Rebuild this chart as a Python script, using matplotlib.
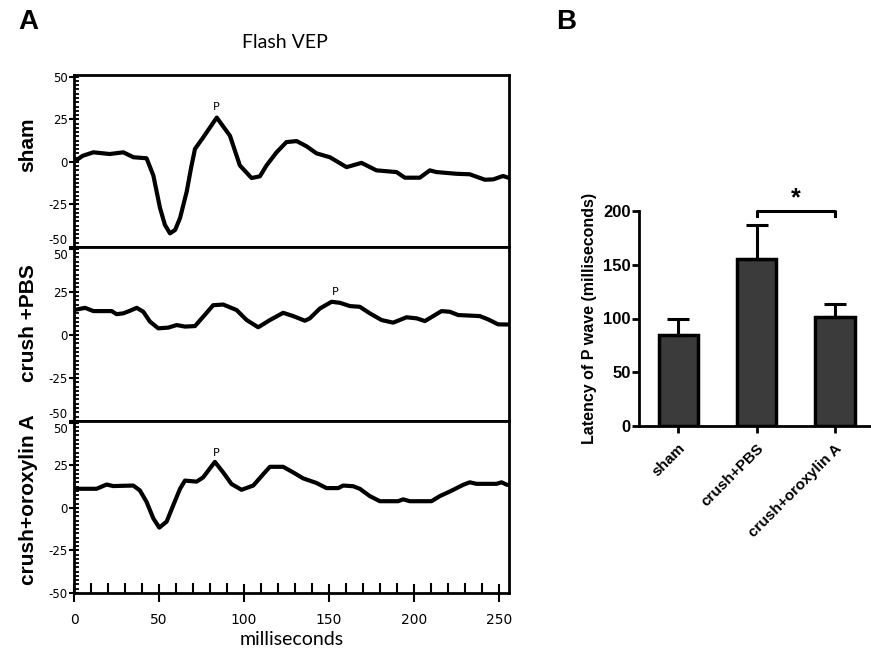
import matplotlib
matplotlib.use("Agg")
import matplotlib.pyplot as plt
from matplotlib.ticker import MultipleLocator

plt.rcParams["axes.unicode_minus"] = False

# ---------------- data ----------------
sham_t = [0, 5, 11.4, 21, 29, 35, 42.7, 46.7, 50.6, 53.5, 56.5, 59.5, 62.4, 66.3, 69, 71.2, 76, 84,
          91.8, 97.6, 104.5, 109.4, 113.3, 119.2, 125, 131, 136.9, 142.7, 150.6, 160.4, 169.2, 178,
          189.8, 194.7, 203.5, 209.4, 213.3, 225, 232.9, 241.8, 246.7, 252.5, 255.5]
sham_v = [0, 3.5, 5.6, 4.6, 5.6, 2.7, 2.1, -8, -27, -37, -42, -40, -33, -17.6, -3, 7.6, 14.3, 26,
          15.3, -2.1, -9.5, -8.5, -2.1, 5.6, 11.6, 12.2, 9.1, 5, 2.7, -3.1, -0.6, -5,
          -6, -9.3, -9.3, -5, -6, -7, -7.3, -10.5, -10.3, -8.3, -9.3]

pbs_t = [0, 6.5, 11.4, 22.2, 25.1, 29, 33, 36.9, 40.8, 44.7, 49.6, 55.5, 60.4, 65.3, 71.2, 76, 81.9,
         87.8, 95.7, 101.6, 108.4, 115.3, 123.1, 129, 135.9, 138.8, 144.7, 151.6, 156.5, 162.4,
         168.2, 174.1, 181, 187.8, 195.7, 201.6, 206.5, 211.4, 216.3, 221.2, 226.1, 238.8, 243.7,
         249.6, 255.5]
pbs_v = [14.4, 15.7, 13.8, 13.8, 12, 12.5, 14, 15.7, 13.4, 7.7, 3.8, 4.2, 5.7, 4.8, 5.1, 10.5, 17.2,
         17.6, 14.4, 8.6, 4.4, 8.6, 12.8, 10.9, 8.2, 9.6, 15.3, 19.2, 18.6, 16.7,
         16.3, 12.5, 8.6, 7.1, 10.2, 9.6, 8, 10.9, 13.8, 13.4, 11.5, 10.9, 9,
         6.1, 6]

oro_t = [0, 13.3, 19.2, 23, 34.9, 38.8, 42.7, 46.7, 50.2, 54.5, 58.4, 62.4, 65.3, 72.2, 76, 82.9,
         87.8, 92.7, 98.6, 105.5, 111.4, 115.3, 123.1, 129, 134.9, 142.7, 148.6, 155.5, 158.4,
         164.3, 168.2, 174.1, 180, 190.8, 193.7, 197.6, 210.4, 215.3, 221.2, 229, 232.9, 236.9,
         248.6, 251.6, 254.9]
oro_v = [11.2, 11.2, 13.7, 12.8, 13.1, 10.2, 3.5, -6.2, -11.6, -8.1, 1.5, 11.2, 16, 15.4, 17.9, 27,
         20.8, 14, 10.6, 13.1, 19.8, 24.1, 24.1, 20.8, 17.3, 14.6, 11.6, 11.6, 13.1,
         12.7, 11.2, 6.9, 3.9, 3.9, 5, 3.9, 3.9, 6.9, 9.6, 13.5, 15, 14.1,
         14.1, 15, 13.5]

traces = [("sham", sham_t, sham_v, (84, 32)),
          ("crush +PBS", pbs_t, pbs_v, (154, 25)),
          ("crush+oroxylin A", oro_t, oro_v, (84, 32))]

groups = ["sham", "crush+PBS", "crush+oroxylin A"]
latency = [85, 155, 101]
latency_err = [15, 32, 12.5]

# ---------------- figure ----------------
W, H = 871, 649
fig = plt.figure(figsize=(W / 100, H / 100), dpi=100)

def fx(px):
    return px / W

def fy(py):
    return 1 - py / H

panel_px = [(75, 247), (247, 421), (421, 593)]
label_y = [145, 323, 500]
left_px, right_px = 74, 509
narrow = ["Liberation Sans Narrow", "DejaVu Sans"]

for i, ((name, t, v, ppos), (top, bot)) in enumerate(zip(traces, panel_px)):
    ax = fig.add_axes([fx(left_px), fy(bot), fx(right_px - left_px), (bot - top) / H])
    ax.plot(t, v, color="black", lw=3, solid_joinstyle="round", solid_capstyle="round")
    ax.set_xlim(0, 256)
    ax.set_ylim(-50, 51)
    for s in ax.spines.values():
        s.set_linewidth(2)
    ax.yaxis.set_major_locator(MultipleLocator(25))
    ax.yaxis.set_minor_locator(MultipleLocator(2.5))
    ax.tick_params(axis="y", which="major", direction="inout", length=7, width=1.5,
                   labelsize=8.5, pad=1)
    ax.tick_params(axis="y", which="minor", direction="in", length=3.5, width=1.3)
    fig.canvas.draw()
    for lab in ax.get_yticklabels():
        lab.set_family(narrow)
        txt = lab.get_text()
        if txt == "-50" and i < 2:
            lab.set_va("bottom")
        if txt == "50" and i > 0:
            lab.set_va("top")
    ax.text(ppos[0], ppos[1], "P", ha="center", va="center", fontsize=8, family=narrow)
    if i < 2:
        ax.set_xticks([])
    else:
        ax.xaxis.set_major_locator(MultipleLocator(50))
        ax.xaxis.set_minor_locator(MultipleLocator(10))
        ax.tick_params(axis="x", which="major", direction="inout", length=13, width=1.5,
                       labelsize=10, pad=8)
        ax.tick_params(axis="x", which="minor", direction="in", length=7, width=1.5)
        for lab in ax.get_xticklabels():
            lab.set_family(narrow)
        ax.set_xlabel("milliseconds", fontsize=14, family="Lato", labelpad=3)
    fig.text(fx(28), fy(label_y[i]), name, rotation=90, ha="center", va="center",
             fontsize=15, fontweight="bold", family="Liberation Sans")

fig.text(fx(285), fy(42), "Flash VEP", ha="center", va="center", fontsize=14, family="Lato")
fig.text(fx(28), fy(22), "A", ha="center", va="center", fontsize=20, fontweight="bold",
         family="Liberation Sans")
fig.text(fx(566), fy(22), "B", ha="center", va="center", fontsize=20, fontweight="bold",
         family="Liberation Sans")

# ---------------- panel B ----------------
bl, br, bt, bb = 639, 871, 211, 426
axb = fig.add_axes([fx(bl), fy(bb), fx(br - bl), (bb - bt) / H])
x = list(range(len(groups)))
axb.bar(x, latency, width=0.5, color="#3b3b3b", edgecolor="black", linewidth=2.5,
        yerr=[[0] * len(latency), latency_err], capsize=8,
        error_kw=dict(elinewidth=2.2, capthick=2.2, ecolor="black"), zorder=3)
axb.set_xlim(-0.5, 2.46)
axb.set_ylim(0, 200)
axb.set_yticks([0, 50, 100, 150, 200])
axb.set_xticks(x)
axb.set_xticklabels(groups, rotation=45, ha="right", va="top", rotation_mode="anchor",
                    fontsize=11, fontweight="bold", family="Liberation Sans")
for lab in axb.get_yticklabels():
    lab.set_fontweight("bold")
    lab.set_family("Liberation Sans")
    lab.set_fontsize(12)
axb.tick_params(axis="both", direction="out", length=5, width=2)
axb.tick_params(axis="x", pad=6)
axb.tick_params(axis="y", pad=1)
for side in ["top", "right"]:
    axb.spines[side].set_visible(False)
for side in ["left", "bottom"]:
    axb.spines[side].set_linewidth(2)
axb.set_ylabel("Latency of P wave (milliseconds)", fontsize=11.5, fontweight="bold",
               family="Liberation Sans", labelpad=4)
axb.plot([1, 1, 2, 2], [195, 200, 200, 195], color="black", lw=2.2, clip_on=False)
axb.text(1.5, 201, "*", ha="center", va="bottom", fontsize=18, fontweight="bold",
         family="Liberation Sans", clip_on=False)

fig.savefig("out.png", dpi=100)
